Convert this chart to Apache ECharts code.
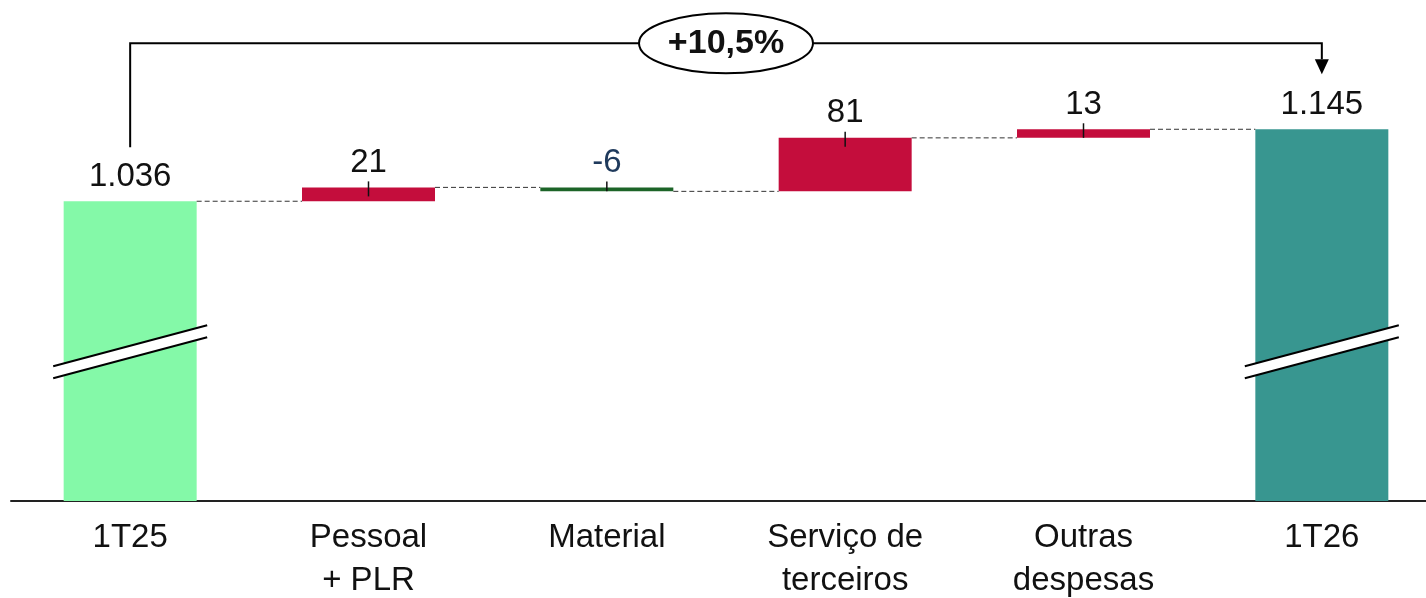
<!DOCTYPE html>
<html>
<head>
<meta charset="utf-8">
<script src="https://cdn.jsdelivr.net/npm/echarts@6/dist/echarts.min.js"></script>
<style>
  html, body { margin: 0; padding: 0; background: #fff; }
  #chart { width: 1426px; height: 598px; }
</style>
</head>
<body>
<div id="chart"></div>
<script>
const categories = ['1T25', 'Pessoal\n+ PLR', 'Material', 'Serviço de\nterceiros', 'Outras\ndespesas', '1T26'];
const startValue = 1036;
const deltas = [21, -6, 81, 13];
const endValue = 1145;
const valueLabels = ['1.036', '21', '-6', '81', '13', '1.145'];
const changeLabel = '+10,5%';
const breakValue = 808;

const colors = {
  start: '#84f9a8',
  end: '#389690',
  up: '#c40d3c',
  down: '#1c6428',
  downLabel: '#1f3a5c',
  connector: '#333333'
};
const barWidth = 133;

// build the waterfall pieces from the deltas
let running = startValue;
const baseData = [0];
const deltaData = ['-'];
const levels = [startValue];
const tickData = [];
deltas.forEach((d, i) => {
  const low = d >= 0 ? running : running + d;
  baseData.push(low);
  deltaData.push({
    value: Math.abs(d),
    itemStyle: { color: d >= 0 ? colors.up : colors.down },
    label: { color: d >= 0 ? '#111' : colors.downLabel }
  });
  tickData.push([i + 1, low + Math.abs(d), low]);
  running += d;
  levels.push(running);
});
baseData.push(0);
deltaData.push('-');
const totalData = [
  { value: startValue, itemStyle: { color: colors.start } },
  '-', '-', '-', '-',
  { value: endValue, itemStyle: { color: colors.end } }
];
const connectorData = levels.map((v, i) => [i, v]);

const chart = echarts.init(document.getElementById('chart'));

const option = {
  animation: false,
  grid: { left: 11, top: 21, width: 1430, bottom: 97, outerBoundsMode: 'none', containLabel: false },
  xAxis: {
    type: 'category',
    data: categories,
    axisTick: { show: false },
    axisLine: { lineStyle: { color: '#222', width: 2 } },
    axisLabel: {
      color: '#111',
      fontSize: 33,
      lineHeight: 43,
      margin: 15,
      fontFamily: 'Liberation Sans'
    }
  },
  yAxis: {
    type: 'value',
    min: 582,
    max: 1309,
    show: false,
    splitLine: { show: false }
  },
  series: [
    {
      name: 'total',
      type: 'bar',
      stack: 'w',
      barWidth: barWidth,
      data: totalData,
      label: {
        show: true,
        position: 'top',
        distance: 8,
        fontSize: 33,
        color: '#111',
        fontFamily: 'Liberation Sans',
        formatter: p => valueLabels[p.dataIndex]
      }
    },
    {
      name: 'base',
      type: 'bar',
      stack: 'w',
      barWidth: barWidth,
      itemStyle: { color: 'transparent' },
      data: baseData
    },
    {
      name: 'delta',
      type: 'bar',
      stack: 'w',
      barWidth: barWidth,
      data: deltaData,
      label: {
        show: true,
        position: 'top',
        distance: 8,
        fontSize: 33,
        fontFamily: 'Liberation Sans',
        formatter: p => valueLabels[p.dataIndex]
      }
    },
    {
      name: 'connectors',
      type: 'custom',
      clip: false,
      silent: true,
      z: 3,
      data: connectorData.slice(0, 5),
      renderItem: (params, api) => {
        const i = api.value(0);
        const a = api.coord([i, api.value(1)]);
        const b = api.coord([i + 1, api.value(1)]);
        return {
          type: 'line',
          shape: { x1: a[0] + barWidth / 2, y1: a[1], x2: b[0] - barWidth / 2, y2: b[1] },
          style: { stroke: colors.connector, lineWidth: 1, lineDash: [5, 3] }
        };
      }
    },
    {
      name: 'ticks',
      type: 'custom',
      clip: false,
      silent: true,
      z: 3,
      data: tickData,
      renderItem: (params, api) => {
        const top = api.coord([api.value(0), api.value(1)]);
        const bottom = api.coord([api.value(0), api.value(2)]);
        return {
          type: 'line',
          shape: { x1: top[0], y1: top[1] - 6, x2: top[0], y2: Math.min(top[1] + 9, bottom[1]) },
          style: { stroke: '#111', lineWidth: 1.5 }
        };
      }
    },
    {
      name: 'breaks',
      type: 'custom',
      clip: false,
      silent: true,
      z: 4,
      data: [[0, breakValue], [5, breakValue]],
      renderItem: (params, api) => {
        const c = api.coord([api.value(0), api.value(1)]);
        const hx = 77, hy = 20.5, gap = 6;
        return {
          type: 'group',
          children: [
            {
              type: 'polygon',
              shape: { points: [
                [c[0] - hx, c[1] + hy - gap], [c[0] + hx, c[1] - hy - gap],
                [c[0] + hx, c[1] - hy + gap], [c[0] - hx, c[1] + hy + gap]
              ] },
              style: { fill: '#fff' }
            },
            {
              type: 'line',
              shape: { x1: c[0] - hx, y1: c[1] + hy - gap, x2: c[0] + hx, y2: c[1] - hy - gap },
              style: { stroke: '#000', lineWidth: 2 }
            },
            {
              type: 'line',
              shape: { x1: c[0] - hx, y1: c[1] + hy + gap, x2: c[0] + hx, y2: c[1] - hy + gap },
              style: { stroke: '#000', lineWidth: 2 }
            }
          ]
        };
      }
    },
    {
      name: 'change',
      type: 'custom',
      clip: false,
      silent: true,
      z: 5,
      data: [[0, startValue, 5, endValue]],
      encode: { x: [0, 2], y: [1, 3] },
      renderItem: (params, api) => {
        const s = api.coord([api.value(0), api.value(1)]);
        const e = api.coord([api.value(2), api.value(3)]);
        const yh = e[1] - 86;
        const xm = (s[0] + e[0]) / 2;
        return {
          type: 'group',
          children: [
            {
              type: 'polyline',
              shape: { points: [[s[0], s[1] - 54], [s[0], yh], [e[0], yh], [e[0], e[1] - 70]] },
              style: { stroke: '#000', lineWidth: 2, fill: null }
            },
            {
              type: 'polygon',
              shape: { points: [[e[0] - 7, e[1] - 70], [e[0] + 7, e[1] - 70], [e[0], e[1] - 55]] },
              style: { fill: '#000' }
            },
            {
              type: 'ellipse',
              shape: { cx: xm, cy: yh, rx: 87, ry: 30 },
              style: { fill: '#fff', stroke: '#000', lineWidth: 2 }
            },
            {
              type: 'text',
              style: {
                text: changeLabel,
                x: xm,
                y: yh,
                align: 'center',
                verticalAlign: 'middle',
                fill: '#111',
                font: 'bold 34px "Liberation Sans"'
              }
            }
          ]
        };
      }
    }
  ]
};

chart.setOption(option);
</script>
</body>
</html>
